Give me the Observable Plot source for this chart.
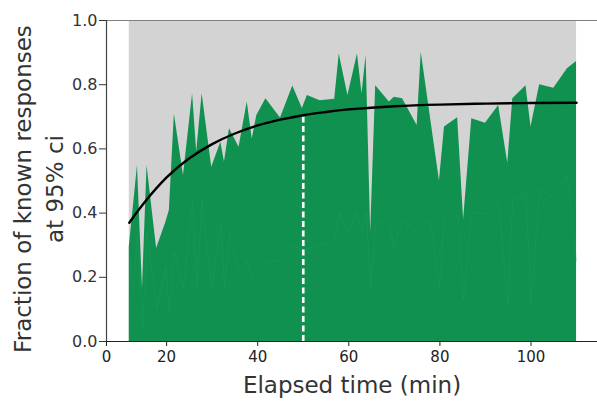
<!DOCTYPE html>
<html>
<head>
<meta charset="utf-8">
<script src="https://cdn.jsdelivr.net/npm/d3@7"></script>
<script src="https://cdn.jsdelivr.net/npm/@observablehq/plot@0.6"></script>
<style>
  html, body { margin: 0; padding: 0; background: #fff; }
  #chart svg { display: block; }
</style>
</head>
<body>
<div id="chart"></div>
<script>
// Elapsed time samples (min)
const times = [11.8, 12.7, 13.6, 14.7, 15.7, 17.8, 19.8, 20.6, 21.7, 23.7, 25.7, 26.6, 27.8, 29.9, 31.9, 32.7, 33.8, 35.9, 37.7, 38.8, 39.8, 41.8, 45, 47.7, 49.8, 50.9, 53.7, 56.9, 57.9, 59.8, 61.9, 62.9, 63.8, 64.8, 65.9, 68.9, 70, 71.8, 75, 75.9, 77.9, 79.9, 81, 83.9, 85.2, 87, 90, 92.9, 94.9, 96, 98.9, 100, 101.9, 105, 108, 110];
// Upper bound of the green band (fraction of known responses)
const upperValues = [0.294, 0.42, 0.548, 0.165, 0.548, 0.29, 0.37, 0.408, 0.709, 0.517, 0.772, 0.59, 0.772, 0.543, 0.621, 0.559, 0.663, 0.605, 0.746, 0.631, 0.704, 0.756, 0.696, 0.796, 0.726, 0.766, 0.75, 0.755, 0.896, 0.766, 0.896, 0.772, 0.891, 0.34, 0.797, 0.746, 0.761, 0.756, 0.673, 0.901, 0.70, 0.50, 0.668, 0.697, 0.379, 0.694, 0.68, 0.735, 0.555, 0.756, 0.797, 0.668, 0.80, 0.789, 0.85, 0.872];
// Faint inner series
const lowerValues = [0.289, 0.159, 0.33, 0.034, 0.336, 0.10, 0.23, 0.09, 0.283, 0.164, 0.44, 0.164, 0.44, 0.164, 0.372, 0.164, 0.336, 0.216, 0.252, 0.195, 0.21, 0.247, 0.254, 0.302, 0.278, 0.289, 0.30, 0.32, 0.40, 0.34, 0.403, 0.34, 0.403, 0.169, 0.367, 0.367, 0.294, 0.375, 0.346, 0.367, 0.377, 0.169, 0.387, 0.41, 0.133, 0.403, 0.398, 0.431, 0.117, 0.441, 0.462, 0.117, 0.476, 0.447, 0.52, 0.25];
// Fitted saturating curve
const fitTimes = [11.8, 15, 20, 25, 30, 35, 40, 45, 50, 55, 60, 70, 80, 90, 100, 110];
const fitValues = [0.37, 0.431, 0.511, 0.571, 0.615, 0.648, 0.673, 0.691, 0.705, 0.715, 0.723, 0.733, 0.738, 0.741, 0.743, 0.744];
// Marker
const markerTime = [50];
const markerTop = [0.705];
// Tick labels
const yTicks = [0, 0.2, 0.4, 0.6, 0.8, 1.0];
const xDomain = [6.8, 114.6];
const xTicks = [6.8, 20, 40, 60, 80, 100];
const xTickLabels = ["0", "20", "40", "60", "80", "100"];

const data = times.map((t, i) => ({t, upper: upperValues[i], lower: lowerValues[i]}));
const fit = fitTimes.map((t, i) => ({t, v: fitValues[i]}));
const tExtent = d3.extent(times);

const green = "#10914f";
const font = "'DejaVu Sans', 'Liberation Sans', sans-serif";

const plot = Plot.plot({
  width: 597,
  height: 402,
  marginLeft: 106,
  marginRight: 0,
  marginTop: 20,
  marginBottom: 61,
  style: {fontFamily: font, background: "#fff", overflow: "visible"},
  x: {domain: xDomain, axis: null},
  y: {domain: [0, 1], axis: null},
  marks: [
    Plot.rect([tExtent], {x1: d => d[0], x2: d => d[1], y1: 0, y2: 1, fill: "#d3d3d3"}),
    Plot.areaY(data, {x: "t", y: "upper", fill: green}),
    Plot.line(data, {x: "t", y: "lower", stroke: "#2ba466", strokeWidth: 0.6, strokeOpacity: 0.45}),
    Plot.ruleX(markerTime, {x: d => d, y1: 0, y2: (d, i) => markerTop[i], stroke: "#fff", strokeWidth: 2.6, strokeDasharray: "6,3.5"}),
    Plot.line(fit, {x: "t", y: "v", curve: "natural", stroke: "#000", strokeWidth: 2.4}),
    Plot.ruleY([1], {x1: xDomain[0], x2: xDomain[1], stroke: "#808080", strokeWidth: 1.2}),
    Plot.ruleY([0], {x1: xDomain[0], x2: xDomain[1], stroke: "#222", strokeWidth: 1.2}),
    Plot.ruleX([xDomain[0]], {y1: 0, y2: 1, stroke: "#444", strokeWidth: 1.2}),
    Plot.axisY({ticks: yTicks, tickFormat: d3.format(".1f"), tickSize: 7, tickPadding: 2, fontSize: 16, stroke: "#333", color: "#333", label: null}),
    Plot.axisX({ticks: xTicks, tickFormat: (d, i) => xTickLabels[i], tickSize: 5, tickPadding: 5, fontSize: 15, stroke: "#222", color: "#222", label: null}),
    Plot.text(["Elapsed time (min)"], {frameAnchor: "bottom", lineAnchor: "bottom", dy: 51, fontSize: 23, fill: "#333"}),
    Plot.text(["Fraction of known responses\nat 95% ci"], {x: xDomain[0], y: 0.475, textAnchor: "middle", lineAnchor: "middle", rotate: -90, dx: -70, fontSize: 23, lineHeight: 1.4, fill: "#333"})
  ]
});
document.getElementById("chart").appendChild(plot);
</script>
</body>
</html>
